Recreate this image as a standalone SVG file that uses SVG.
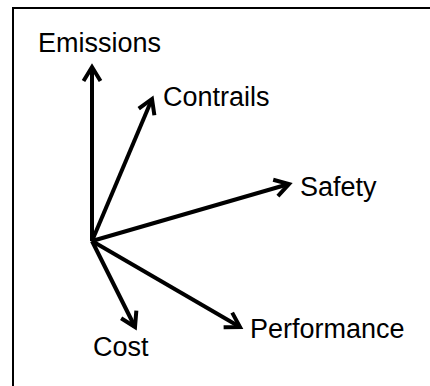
<svg xmlns="http://www.w3.org/2000/svg" width="430" height="386" viewBox="0 0 430 386">
<defs>
<style>
.lbl{font-family:"Liberation Sans",Arial,sans-serif;font-size:27px;fill:#000}
.arr{stroke:#000;stroke-width:4;fill:none;marker-end:url(#head)}
</style>
<marker id="head" markerUnits="userSpaceOnUse" refX="0" refY="0" markerWidth="30" markerHeight="30" viewBox="-20 -15 30 30" orient="auto" overflow="visible">
<path d="M-14,-8.5 L0,0 L-14,8.5" fill="none" stroke="#000" stroke-width="4"/>
</marker>
</defs>
<rect width="430" height="386" fill="#fff"/>
<path d="M13,400 L13,8 L440,8" fill="none" stroke="#000" stroke-width="2"/>
<g id="connectors">
<line class="arr" x1="92" y1="241" x2="92" y2="67"/>
<line class="arr" x1="92" y1="241" x2="152" y2="99"/>
<line class="arr" x1="92" y1="241" x2="289" y2="184"/>
<line class="arr" x1="92" y1="241" x2="135" y2="327"/>
<line class="arr" x1="92" y1="241" x2="240" y2="327"/>
</g>
<g id="emissions"><text class="lbl" x="38" y="52">Emissions</text></g>
<g id="contrails"><text class="lbl" x="163" y="106">Contrails</text></g>
<g id="safety"><text class="lbl" x="300" y="196">Safety</text></g>
<g id="cost"><text class="lbl" x="93" y="356">Cost</text></g>
<g id="performance"><text class="lbl" x="250" y="338">Performance</text></g>
</svg>
